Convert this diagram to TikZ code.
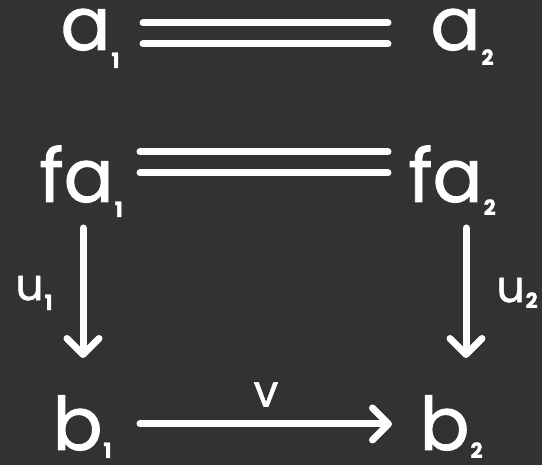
\documentclass[tikz,border=0pt]{standalone}
\usepackage{fontspec}
\setmainfont{Poppins}
\newfontfamily\boardfont{Poppins}[FakeBold=1.2]
\usetikzlibrary{arrows.meta}
\definecolor{boardbg}{HTML}{323232}
\newcommand{\lowsub}[2][18pt]{\hspace{1pt}\raisebox{-#1}{\fontsize{21}{21}\selectfont\bfseries #2}}
\tikzset{
  obj/.style={text=white, inner sep=0pt, anchor=base, font=\boardfont\fontsize{74}{74}\selectfont},
  lbl/.style={text=white, inner sep=0pt, font=\boardfont\fontsize{44}{44}\selectfont},
  map/.style={draw=white, line width=7pt, line cap=round, -{Straight Barb[length=16pt,width=32pt,round]}},
  eqline/.style={draw=white, line width=7pt, line cap=round},
}

\begin{document}
\begin{tikzpicture}[x=1pt, y=1pt]
        \fill[boardbg] (0,0) rectangle (542,465);
        \useasboundingbox (0,0) rectangle (542,465);

        % Nodes
        \node[obj] (a1) at (90,415) {a\lowsub{1}};
        \node[obj] (a2) at (462,415) {a\lowsub[15pt]{2}};
        \node[obj] (fa1) at (81,263) {fa\lowsub[15pt]{1}};
        \node[obj] (fa2) at (452,263) {fa\lowsub[13pt]{2}};
        \node[obj] (b1) at (82,15) {b\lowsub[8pt]{1}};
        \node[obj] (b2) at (451,15) {b\lowsub[8pt]{2}};

        % Arrows
        \draw[eqline] ([xshift=53pt,yshift=27pt]a1.base) -- ([xshift=-74pt,yshift=27pt]a2.base);
        \draw[eqline] ([xshift=53pt,yshift=6pt]a1.base) -- ([xshift=-74pt,yshift=6pt]a2.base);
        \draw[eqline] ([xshift=59pt,yshift=50pt]fa1.base) -- ([xshift=-64pt,yshift=50pt]fa2.base);
        \draw[eqline] ([xshift=59pt,yshift=29pt]fa1.base) -- ([xshift=-64pt,yshift=29pt]fa2.base);
        \draw[map] ([xshift=2pt,yshift=-26pt]fa1.base) to node[lbl, left=27pt] {u\lowsub[10pt]{1}} ([xshift=1pt,yshift=92pt]b1.base);
        \draw[map] ([xshift=14pt,yshift=-26pt]fa2.base) to node[lbl, right=27pt] {u\lowsub[6pt]{2}} ([xshift=15pt,yshift=92pt]b2.base);
        \draw[map] ([xshift=58pt,yshift=26pt]b1.base) to node[lbl, above=14pt] {v} ([xshift=-59pt,yshift=26pt]b2.base);
\end{tikzpicture}
\end{document}
